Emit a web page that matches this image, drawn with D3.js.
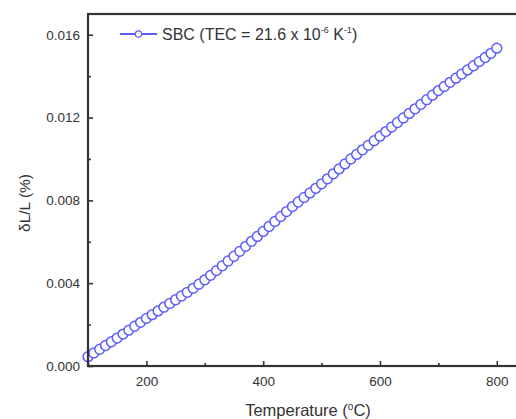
<!DOCTYPE html>
<html><head><meta charset="utf-8">
<script src="https://cdn.jsdelivr.net/npm/d3@7"></script>
<style>body{margin:0;background:#fff}svg{display:block}text{font-family:"Liberation Sans",Arial,sans-serif;fill:#333}</style>
</head><body><svg id="c" width="516" height="419"></svg>
<script>
const temperatures = [100,110,120,130,140,150,160,170,180,190,200,210,220,230,240,250,260,270,280,290,300,310,320,330,340,350,360,370,380,390,400,410,420,430,440,450,460,470,480,490,500,510,520,530,540,550,560,570,580,590,600,610,620,630,640,650,660,670,680,690,700,710,720,730,740,750,760,770,780,790,800];
const dLL = [0.00045,0.00063,0.00081,0.00099,0.00117,0.00135,0.00154,0.00173,0.00192,0.00211,0.00230,0.00248,0.00266,0.00284,0.00302,0.00320,0.00338,0.00356,0.00375,0.00395,0.00416,0.00438,0.00461,0.00484,0.00507,0.00530,0.00554,0.00578,0.00602,0.00626,0.00650,0.00674,0.00698,0.00722,0.00746,0.00770,0.00792,0.00814,0.00836,0.00858,0.00880,0.00904,0.00928,0.00952,0.00976,0.01000,0.01022,0.01044,0.01066,0.01088,0.01110,0.01132,0.01154,0.01176,0.01198,0.01220,0.01242,0.01264,0.01286,0.01308,0.01330,0.01350,0.01370,0.01390,0.01410,0.01430,0.01450,0.01470,0.01490,0.01510,0.01535];
const xTicks = [200,400,600,800];
const xMinor = [100,300,500,700];
const yTicks = [0.000,0.004,0.008,0.012,0.016];
const yMinor = [0.002,0.006,0.010,0.014];
const seriesColor = "#5c5cff";

const svg = d3.select("#c");
const L=88, T=14, B=366, R=526;
const x = d3.scaleLinear().domain([100,850]).range([L,R]);
const y = d3.scaleLinear().domain([0,0.017]).range([B,T]);
const data = temperatures.map((t,i)=>({t, v:dLL[i]}));

// series
svg.append("path").datum(data)
  .attr("d", d3.line().x(d=>x(d.t)).y(d=>y(d.v)))
  .attr("fill","none").attr("stroke",seriesColor).attr("stroke-width",1.3);
svg.append("g").selectAll("circle").data(data).join("circle")
  .attr("cx",d=>x(d.t)).attr("cy",d=>y(d.v)).attr("r",4.9)
  .attr("fill","#fff").attr("stroke",seriesColor).attr("stroke-width",1.5);

// axes (inward ticks)
const ax = d3.axisBottom(x).tickValues(xTicks).tickSize(-5).tickPadding(10).tickFormat(d3.format("d"));
svg.append("g").attr("transform",`translate(0,${B})`).call(ax);
svg.append("g").attr("transform",`translate(0,${B})`)
  .call(d3.axisBottom(x).tickValues(xMinor).tickSize(-3).tickFormat(""));
const ay = d3.axisLeft(y).tickValues(yTicks).tickSize(-5).tickPadding(8).tickFormat(d3.format(".3f"));
svg.append("g").attr("transform",`translate(${L},0)`).call(ay);
svg.append("g").attr("transform",`translate(${L},0)`)
  .call(d3.axisLeft(y).tickValues(yMinor).tickSize(-3).tickFormat(""));
svg.selectAll(".domain").remove();
svg.selectAll(".tick line").attr("stroke","#333").attr("stroke-width",1.6);
svg.selectAll(".tick text").style("font-size","13.5px").attr("fill","#333");

// frame
svg.append("rect").attr("x",L).attr("y",T).attr("width",R-L).attr("height",B-T)
  .attr("fill","none").attr("stroke","#333").attr("stroke-width",2.2);

// axis titles
svg.append("text").attr("x",308).attr("y",416).attr("text-anchor","middle")
  .style("font-size","16.5px").html('Temperature (<tspan dy="-6" font-size="10">o</tspan><tspan dy="6">C)</tspan>');
svg.append("text").attr("transform","translate(30,203) rotate(-90)").attr("text-anchor","middle")
  .style("font-size","15.5px").text("δL/L (%)");

// legend
svg.append("line").attr("x1",120).attr("x2",157).attr("y1",34).attr("y2",34)
  .attr("stroke",seriesColor).attr("stroke-width",2.2);
svg.append("circle").attr("cx",138.5).attr("cy",34).attr("r",3.2)
  .attr("fill","#fff").attr("stroke",seriesColor).attr("stroke-width",1.2);
svg.append("text").attr("x",162).attr("y",40).style("font-size","16px")
  .html('SBC (TEC = 21.6 x 10<tspan dy="-7" font-size="9">-6</tspan><tspan dy="7"> K</tspan><tspan dy="-7" font-size="9">-1</tspan><tspan dy="7">)</tspan>');
</script></body></html>
